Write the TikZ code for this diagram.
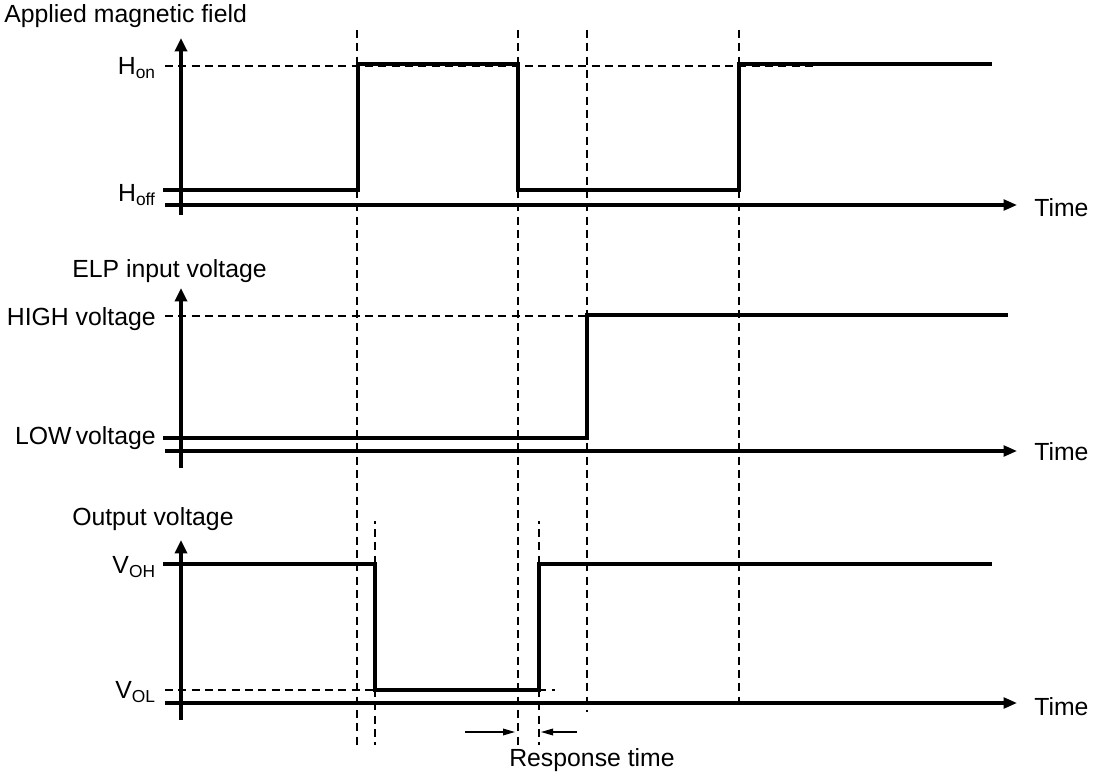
\documentclass[tikz,border=0pt]{standalone}
\usepackage{fontspec}
\setmainfont{Liberation Sans}
\usetikzlibrary{arrows.meta}
\begin{document}
\begin{tikzpicture}[x=0.75pt,y=-0.75pt,
  sig/.style={line width=3.6pt, line join=miter},
  yaxis/.style={line width=3pt,-{Triangle[length=10pt,width=9pt]}},
  taxis/.style={line width=2.3pt,-{Triangle[length=10pt,width=8pt]}},
  guide/.style={line width=1.4pt, dash pattern=on 6pt off 4pt},
  lbl/.style={font=\fontsize{18.6}{21}\selectfont, inner sep=0pt},
  rt/.style={line width=0.9pt,-{Triangle[length=9pt,width=5pt]}}
]
\useasboundingbox (0,0) rectangle (1095,773);

% vertical guide lines
\draw[guide] (357,30) -- (357,745);
\draw[guide] (518,30) -- (518,745);
\draw[guide] (587,30) -- (587,712);
\draw[guide] (739,30) -- (739,708);
\draw[guide, dash phase=4pt] (375,521) -- (375,745);
\draw[guide, dash phase=4pt] (539,521) -- (539,745);

% ---------- panel 1 ----------
\node[lbl, anchor=west] (t1) at (4,16) {Applied magnetic field};
\draw[guide] (165,66) -- (815,66);
\draw[yaxis] (181,215) -- (181,38);
\draw[taxis] (165,205) -- (1017,205);
\node[lbl, anchor=west] (time1) at (1034,208) {Time};
\node[lbl, anchor=east] (hon) at (156,68) {H\textsubscript{on}};
\node[lbl, anchor=east] (hoff) at (156,195) {H\textsubscript{off}};
\draw[sig] (163,190) -- (358,190) -- (358,64) -- (518,64) -- (518,190) -- (739,190) -- (739,64) -- (992,64);

% ---------- panel 2 ----------
\node[lbl, anchor=west] (t2) at (72,271) {ELP input voltage};
\draw[guide] (165,316) -- (590,316);
\draw[yaxis] (181,468) -- (181,288);
\draw[taxis] (165,451) -- (1017,451);
\node[lbl, anchor=west] (time2) at (1034,452) {Time};
\node[lbl, anchor=east] (high) at (156,319) {HIGH voltage};
\node[lbl, anchor=east] (low) at (156,438) {LOW\,voltage};
\draw[sig] (163,438) -- (587,438) -- (587,315) -- (1008,315);

% ---------- panel 3 ----------
\node[lbl, anchor=west] (t3) at (72,519) {Output voltage};
\draw[guide] (165,690) -- (555,690);
\draw[yaxis] (181,720) -- (181,540);
\draw[taxis] (165,703) -- (1017,703);
\node[lbl, anchor=west] (time3) at (1034,707) {Time};
\node[lbl, anchor=east] (voh) at (156,567) {V\textsubscript{OH}};
\node[lbl, anchor=east] (vol) at (156,692) {V\textsubscript{OL}};
\draw[sig] (163,564) -- (375,564) -- (375,690) -- (539,690) -- (539,564) -- (992,564);

% response time
\coordinate (ra) at (465,732);
\coordinate (rb) at (515,732);
\coordinate (rc) at (577,732);
\coordinate (rd) at (541,732);
\draw[rt] (ra) -- (rb);
\draw[rt] (rc) -- (rd);
\node[lbl, anchor=center] (resp) at (592,760) {Response time};
\end{tikzpicture}
\end{document}
